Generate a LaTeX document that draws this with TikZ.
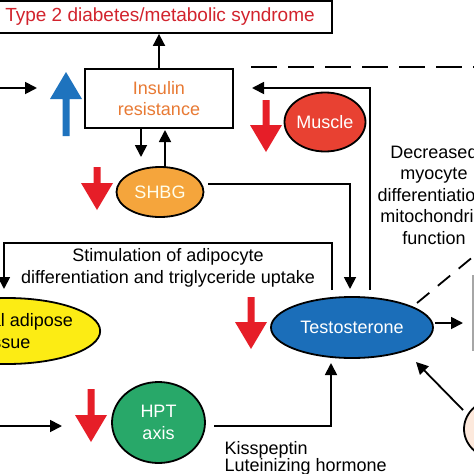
\documentclass[tikz,border=0pt]{standalone}
\usepackage{fontspec}
\setmainfont{Liberation Sans}
\usepackage{tikz}
\usetikzlibrary{arrows.meta,shapes.geometric}

\definecolor{titlered}{RGB}{210,35,45}
\definecolor{insorange}{RGB}{232,122,52}
\definecolor{uparrowblue}{RGB}{30,115,190}
\definecolor{downred}{RGB}{230,30,40}
\definecolor{musclered}{RGB}{232,65,50}
\definecolor{shbgorange}{RGB}{245,165,60}
\definecolor{fatyellow}{RGB}{252,236,20}
\definecolor{testblue}{RGB}{27,110,185}
\definecolor{hptgreen}{RGB}{40,168,105}
\definecolor{peach}{RGB}{253,233,220}

% fat arrow: colour, x, start y, tip y
\newcommand{\fatarrow}[4]{%
  \fill[#1] (#2-3.5,#3) -- (#2+3.5,#3) -- (#2+3.5,{#4-27*sign(#4-#3)})
    -- (#2+16,{#4-27*sign(#4-#3)}) -- (#2,#4) -- (#2-16,{#4-27*sign(#4-#3)})
    -- (#2-3.5,{#4-27*sign(#4-#3)}) -- cycle;}

\begin{document}
\begin{tikzpicture}[x=1pt,y=-1pt,
    every node/.style={font=\fontsize{18}{21.5}\selectfont},
    line/.style={line width=1.8pt},
    arr/.style={line width=1.8pt,-{Triangle[length=12pt,width=12pt]}},
    blob/.style={ellipse,draw,line width=1.8pt,inner sep=0pt,text=white}]
    \useasboundingbox (0,0) rectangle (474,474);
    \clip (0,0) rectangle (474,474);
    \fill[white] (0,0) rectangle (474,474);

    \node[draw,line width=1.8pt,minimum width=344pt,minimum height=32pt,text=titlered,
      font=\fontsize{19}{22}\selectfont] (t2d) at (160,17) {Type 2 diabetes/metabolic syndrome};
    \node[draw,line width=1.8pt,minimum width=148pt,minimum height=59pt,align=center,
      text=insorange] (ins) at (159,98.5) {Insulin\\resistance};
    \node[blob,fill=musclered,minimum width=81pt,minimum height=59pt] (muscle) at (325,122) {Muscle};
    \node[blob,fill=shbgorange,minimum width=87pt,minimum height=50pt,text=white!92!yellow] (shbg) at (160,192) {SHBG};
    \node[blob,fill=fatyellow,minimum width=186pt,minimum height=66pt,align=center,text=black] (fat) at (7,331) {Visceral adipose\\tissue};
    \node[blob,fill=testblue,minimum width=162pt,minimum height=61pt] (test) at (352,327.5) {Testosterone};
    \node[blob,fill=hptgreen,minimum width=93pt,minimum height=81pt,align=center] (hpt) at (158.5,422.5) {HPT\\axis};
    \node[blob,fill=peach,minimum width=72pt,minimum height=62pt] (peachblob) at (500,429) {};
    \draw[gray!70,line width=1.8pt] (473,275) -- (473,351);

    \coordinate (leftin) at (-5,88);
    \coordinate (leftinend) at (37,88);
    \coordinate (insback) at (252,88);
    \coordinate (musclefrom) at (370,290);
    \coordinate (shbgout) at (208,184);
    \coordinate (testin) at (350,289);
    \coordinate (stimfrom) at (332,290);
    \coordinate (fatin) at (4,289);
    \coordinate (testout) at (435,323);
    \coordinate (testoutend) at (463,323);
    \coordinate (hptin) at (-5,426);
    \coordinate (hptinend) at (62,426);
    \coordinate (hptout) at (214,426);
    \coordinate (testbot) at (331,363);

    \draw[arr] (leftin) -- (leftinend);
    \draw[arr] (ins.north) -- (ins.north |- t2d.south);
    \draw[line,dash pattern=on 26pt off 11pt] (251,67) -- (480,67);
    \draw[arr] (musclefrom) |- (insback);
    \draw[arr] (141,128) -- (141,157);
    \draw[arr] (165,167) -- (165,130);
    \draw[arr] (shbgout) -| (testin);
    \draw[arr] (stimfrom) -- (332,243) -| (fatin);
    \draw[arr] (testout) -- (testoutend);
    \draw[line,dash pattern=on 16pt off 11pt] (417,303) -- (480,251);
    \draw[arr] (463,410) -- (416,362);
    \draw[arr] (hptin) -- (hptinend);
    \draw[arr] (hptout) -| (testbot);

    \fatarrow{uparrowblue}{66}{136}{72}
    \fatarrow{downred}{266}{100}{152}
    \fatarrow{downred}{97}{167}{210}
    \fatarrow{downred}{251}{297}{349}
    \fatarrow{downred}{91}{389}{442}

    \node[align=center] (stim) at (168,268) {Stimulation of adipocyte\\differentiation and triglyceride uptake};
    \node[align=center] (myo) at (434,195) {Decreased\\myocyte\\differentiation/\\mitochondrial\\function};
    \node[align=left,anchor=west,font=\fontsize{18}{17}\selectfont] (kiss) at (221,458.5) {Kisspeptin\\Luteinizing hormone};
  \end{tikzpicture}
\end{document}
